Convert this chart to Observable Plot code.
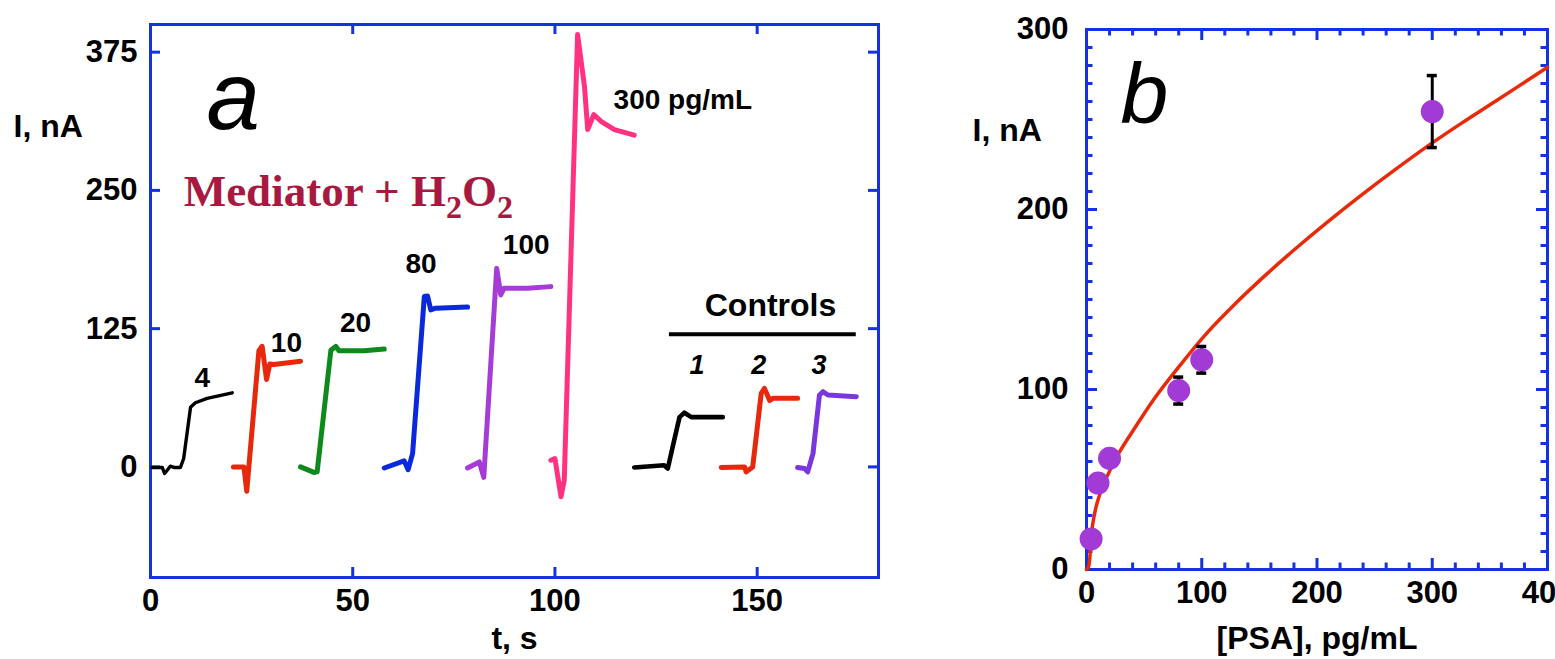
<!DOCTYPE html>
<html>
<head>
<meta charset="utf-8">
<script src="https://cdn.jsdelivr.net/npm/d3@7"></script>
<script src="https://cdn.jsdelivr.net/npm/@observablehq/plot@0.6"></script>
<style>
html, body { margin: 0; padding: 0; background: #fff; overflow: hidden; }
#wrap { position: relative; width: 1555px; height: 659px; }
#wrap > svg { position: absolute; top: 0; }
</style>
</head>
<body>
<div id="wrap"></div>
<script>
// ---------- Panel a: amperometric traces (t in s, I in nA) ----------
const trace4   = [[0.4,-0.5],[2.9,-0.5],[3.5,-6],[4.9,0.6],[5.8,-0.5],[7.4,-0.5],[8.2,7.6],[9.9,54],[11.1,58],[14,62],[20.2,67]];
const trace10  = [[20.5,0],[23.1,0],[23.8,-22],[26.8,105],[27.6,109],[28.7,79],[29.5,93],[30.5,92.5],[37.1,95.5]];
const trace20  = [[37.1,0],[40.4,-5],[41.2,-4.5],[44.6,105.5],[45.8,109],[46.6,105],[52.8,105],[57.8,106.5]];
const trace80  = [[57.8,-1],[62.7,5.5],[63.7,-2.5],[64.8,12],[67.7,154],[68.5,154.5],[69.3,142],[70.5,143.5],[78.4,144.5]];
const trace100 = [[78.4,-1],[81.3,4.5],[82.4,-9.5],[85.6,179.5],[86.6,155.5],[87.4,161.5],[93.2,161.5],[99,163]];
const trace300 = [[99,6],[100,7.5],[101.5,-27],[102.3,-12],[105.6,391],[107.3,344],[108.1,305],[109.6,318.5],[111.4,312.5],[114.7,305],[119.6,300]];
const control1 = [[119.6,-0.5],[127,1.5],[127.9,-1.5],[129.1,18],[130.8,45],[132,49],[133.7,45],[141.5,45]];
const control2 = [[141.1,-0.5],[146.9,0],[147.3,-4.5],[148.9,0],[151,66.5],[151.8,71],[153.1,60],[153.9,62],[160,62]];
const control3 = [[160,-0.5],[161.7,-1.5],[162.5,-4.5],[163.8,12],[165.4,65],[166.3,68],[167.5,65],[174.5,63.5]];

const curveLabels  = ["4", "10", "20", "80", "100"];
const curveLabelT  = [12.8, 33.6, 50.7, 66.9, 92.9];
const curveLabelI  = [80, 112, 130, 183.6, 201];
const topLabel     = "300 pg/mL";
const topLabelT    = 114.5;
const topLabelI    = 332;
const controlLabels = ["1", "2", "3"];
const controlLabelT = [135.1, 150.4, 165.3];
const controlLabelI = 91.7;
const controlsTitleT = 153.3, controlsTitleI = 146;
const controlsBarT = [128.3, 174.5], controlsBarI = 120;
const mediatorT = 8.2, mediatorI = 236;

const xTicksA = [0, 50, 100, 150];
const yTicksA = [0, 125, 250, 375];

// ---------- Panel b: calibration ----------
const psaConc    = [4, 10, 20, 80, 100, 300];
const psaCurrent = [17, 48, 61.8, 99.4, 116.5, 254.4];
const psaErr     = [3, 3, 3, 7.5, 7.4, 20];
const fitConc    = [0, 1.7, 4.6, 9, 16.2, 27.8, 42.3, 59.7, 80, 104.6, 128, 157, 180, 209, 238.5, 267.5, 300, 325.5, 354.5, 400];
const fitCurrent = [0, 1.3, 21.7, 36.5, 49.4, 64.3, 79, 95.7, 112.5, 131.5, 147, 164.5, 177.5, 193, 208, 222, 237, 248, 260, 279];

const xTicksB = [0, 100, 200, 300, 400];
const yTicksB = [0, 100, 200, 300];
const xMinorB = d3.range(20, 400, 20).filter(v => v % 100 !== 0);
const yMinorB = d3.range(10, 300, 10).filter(v => v % 100 !== 0);

// ---------- styles ----------
const FRAME = "#1432e0";
const SANS = "'Liberation Sans', Arial, sans-serif";
const C = {
  black: "#000000", red: "#e8280c", green: "#0c8a1c", blue: "#0a28dc",
  purple: "#a63bd8", pink: "#ff3282", violet: "#7a38dc", mediator: "#a8183f",
  dot: "#a23ad6", fit: "#e82a0a"
};

const traces = [
  {data: trace4, stroke: C.black, w: 3.4},
  {data: trace10, stroke: C.red, w: 5},
  {data: trace20, stroke: C.green, w: 5},
  {data: trace80, stroke: C.blue, w: 5},
  {data: trace100, stroke: C.purple, w: 5},
  {data: trace300, stroke: C.pink, w: 5},
  {data: control1, stroke: C.black, w: 4.6},
  {data: control2, stroke: C.red, w: 5},
  {data: control3, stroke: C.violet, w: 5}
];

function innerTicks(xTicks, yTicks, xDom, yDom, len, stroke, w) {
  return [
    Plot.ruleX(xTicks, {x: d => d, y1: yDom[0], y2: yDom[0], insetTop: -len, stroke, strokeWidth: w}),
    Plot.ruleX(xTicks, {x: d => d, y1: yDom[1], y2: yDom[1], insetBottom: -len, stroke, strokeWidth: w}),
    Plot.ruleY(yTicks, {y: d => d, x1: xDom[0], x2: xDom[0], insetRight: -len, stroke, strokeWidth: w}),
    Plot.ruleY(yTicks, {y: d => d, x1: xDom[1], x2: xDom[1], insetLeft: -len, stroke, strokeWidth: w})
  ];
}

const xDomA = [0, 180], yDomA = [-100, 400];
const A = Plot.plot({
  width: 900, height: 659,
  marginLeft: 150, marginRight: 22, marginTop: 24, marginBottom: 82,
  x: {domain: xDomA}, y: {domain: yDomA},
  style: {fontFamily: SANS, background: "transparent", overflow: "visible"},
  marks: [
    Plot.frame({stroke: FRAME, strokeWidth: 3}),
    ...innerTicks(xTicksA.filter(v => v > 0), yTicksA, xDomA, yDomA, 10, FRAME, 3),
    ...traces.map(tr => Plot.line(tr.data, {x: d => d[0], y: d => d[1], stroke: tr.stroke, strokeWidth: tr.w, strokeLinejoin: "round", strokeLinecap: "round"})),
    Plot.ruleY([controlsBarI], {x1: controlsBarT[0], x2: controlsBarT[1], stroke: "#000", strokeWidth: 4}),
    Plot.axisX(xTicksA, {anchor: "bottom", tickSize: 0, tickPadding: 11, fontSize: 31, fontWeight: "bold", label: null}),
    Plot.axisY(yTicksA, {anchor: "left", tickSize: 0, tickPadding: 13, fontSize: 31, fontWeight: "bold", label: null}),
    Plot.text(curveLabels, {x: (d, i) => curveLabelT[i], y: (d, i) => curveLabelI[i], text: d => d, fontSize: 28, fontWeight: "bold", textAnchor: "middle", lineAnchor: "middle"}),
    Plot.text([topLabel], {x: topLabelT, y: topLabelI, text: d => d, fontSize: 28, fontWeight: "bold", textAnchor: "start", lineAnchor: "middle"}),
    Plot.text(["Controls"], {x: controlsTitleT, y: controlsTitleI, text: d => d, fontSize: 32, fontWeight: "bold", textAnchor: "middle", lineAnchor: "middle"}),
    Plot.text(controlLabels, {x: (d, i) => controlLabelT[i], y: controlLabelI, text: d => d, fontSize: 27, fontWeight: "bold", fontStyle: "italic", textAnchor: "middle", lineAnchor: "middle"}),
    Plot.text(["Mediator + H2O2"], {x: mediatorT, y: mediatorI, text: d => d, fontFamily: "'Liberation Serif', 'Times New Roman', serif", fontSize: 45, fontWeight: "bold", fill: C.mediator, textAnchor: "start", lineAnchor: "bottom"}),
    Plot.text(["a"], {frameAnchor: "top-left", dx: 56, dy: 104, text: d => d, fontSize: 96, fontStyle: "italic", textAnchor: "start", lineAnchor: "bottom"}),
    Plot.text(["I, nA"], {frameAnchor: "top-left", dx: -137, dy: 102, text: d => d, fontSize: 32, fontWeight: "bold", textAnchor: "start", lineAnchor: "middle"}),
    Plot.text(["t, s"], {frameAnchor: "bottom", dy: 71, text: d => d, fontSize: 32, fontWeight: "bold", textAnchor: "middle", lineAnchor: "bottom"})
  ]
});

const xDomB = [0, 400], yDomB = [0, 300];
const B = Plot.plot({
  width: 655, height: 659,
  marginLeft: 186, marginRight: 8, marginTop: 29, marginBottom: 90,
  x: {domain: xDomB}, y: {domain: yDomB},
  style: {fontFamily: SANS, background: "transparent", overflow: "visible"},
  marks: [
    Plot.frame({stroke: FRAME, strokeWidth: 3}),
    ...innerTicks(xTicksB.filter(v => v > 0 && v < 400), yTicksB.filter(v => v > 0 && v < 300), xDomB, yDomB, 11, FRAME, 3),
    ...innerTicks(xMinorB, yMinorB, xDomB, yDomB, 6.5, FRAME, 3),
    Plot.line(fitConc, {x: d => d, y: (d, i) => fitCurrent[i], stroke: C.fit, strokeWidth: 3.5, curve: "catmull-rom"}),
    Plot.ruleX(psaConc, {x: d => d, y1: (d, i) => psaCurrent[i] - psaErr[i], y2: (d, i) => psaCurrent[i] + psaErr[i], stroke: "#000", strokeWidth: 3}),
    Plot.ruleY(psaConc, {y: (d, i) => psaCurrent[i] - psaErr[i], x1: d => d, x2: d => d, insetLeft: -5, insetRight: -5, stroke: "#000", strokeWidth: 3.5}),
    Plot.ruleY(psaConc, {y: (d, i) => psaCurrent[i] + psaErr[i], x1: d => d, x2: d => d, insetLeft: -5, insetRight: -5, stroke: "#000", strokeWidth: 3.5}),
    Plot.dot(psaConc, {x: d => d, y: (d, i) => psaCurrent[i], r: 11.5, fill: C.dot, stroke: null}),
    Plot.axisX(xTicksB, {anchor: "bottom", tickSize: 0, tickPadding: 11, fontSize: 31, fontWeight: "bold", label: null}),
    Plot.axisY(yTicksB, {anchor: "left", tickSize: 0, tickPadding: 18, fontSize: 31, fontWeight: "bold", label: null}),
    Plot.text(["b"], {frameAnchor: "top-left", dx: 34, dy: 93, text: d => d, fontSize: 86, fontStyle: "italic", textAnchor: "start", lineAnchor: "bottom"}),
    Plot.text(["I, nA"], {frameAnchor: "top-left", dx: -114, dy: 101, text: d => d, fontSize: 32, fontWeight: "bold", textAnchor: "start", lineAnchor: "middle"}),
    Plot.text(["[PSA], pg/mL"], {frameAnchor: "bottom", dy: 79, text: d => d, fontSize: 32, fontWeight: "bold", textAnchor: "middle", lineAnchor: "bottom"})
  ]
});

// Subscripts for H2O2
d3.select(A).selectAll("text").filter(function() { return this.textContent === "Mediator + H2O2"; }).each(function() {
  const t = d3.select(this);
  t.text(null);
  t.append("tspan").text("Mediator + H");
  t.append("tspan").attr("dy", 12).attr("font-size", 32).text("2");
  t.append("tspan").attr("dy", -12).text("O");
  t.append("tspan").attr("dy", 12).attr("font-size", 32).text("2");
});

const wrap = document.getElementById("wrap");
A.style.left = "0px";
B.style.left = "900px";
wrap.appendChild(A);
wrap.appendChild(B);
</script>
</body>
</html>
